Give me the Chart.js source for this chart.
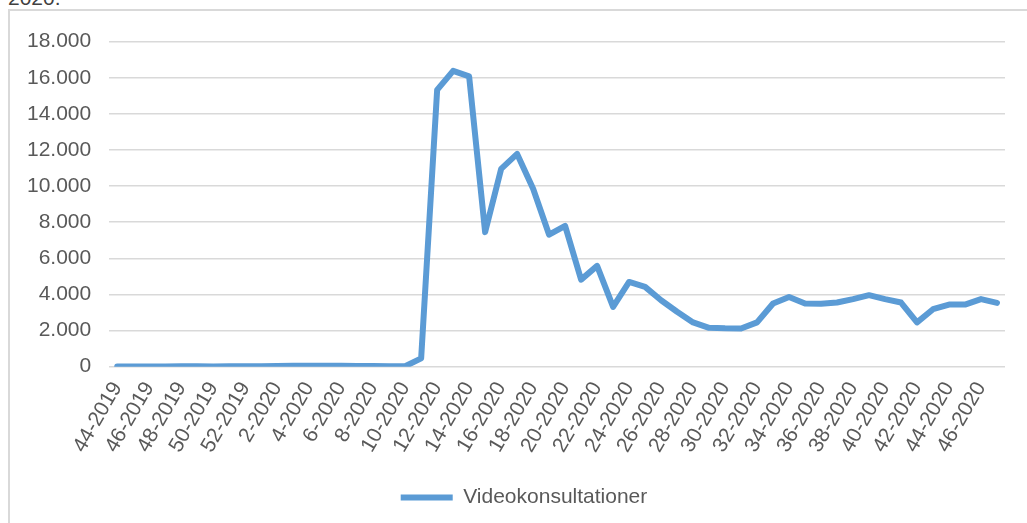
<!DOCTYPE html>
<html lang="da">
<head>
<meta charset="UTF-8">
<title>Videokonsultationer</title>
<style>
    body { margin: 0; background: #fff; overflow: hidden; font-family: "Liberation Sans", Arial, sans-serif; }
    .intro { position: absolute; left: 8px; top: -14px; font-size: 21px; color: #404040; }
    .ramme { position: absolute; left: 8px; top: 9px; width: 1060px; height: 540px; border: 2px solid #d9d9d9; box-sizing: border-box; }
    .ramme canvas { position: absolute; left: -1px; top: 0; }
</style>
</head>
<body>
<div class="intro">2020.</div>
<div class="ramme">
    <canvas id="videoChart" width="1036" height="512"></canvas>
</div>
<script src="https://cdn.jsdelivr.net/npm/chart.js"></script>
<script>
    // uger (kategorier)
    const uger = ['44-2019', '45-2019', '46-2019', '47-2019', '48-2019', '49-2019', '50-2019', '51-2019', '52-2019',
        '1-2020', '2-2020', '3-2020', '4-2020', '5-2020', '6-2020', '7-2020', '8-2020', '9-2020', '10-2020',
        '11-2020', '12-2020', '13-2020', '14-2020', '15-2020', '16-2020', '17-2020', '18-2020', '19-2020', '20-2020',
        '21-2020', '22-2020', '23-2020', '24-2020', '25-2020', '26-2020', '27-2020', '28-2020', '29-2020', '30-2020',
        '31-2020', '32-2020', '33-2020', '34-2020', '35-2020', '36-2020', '37-2020', '38-2020', '39-2020', '40-2020',
        '41-2020', '42-2020', '43-2020', '44-2020', '45-2020', '46-2020', '47-2020'];

    // antal videokonsultationer pr. uge
    const videokonsultationer = [10, 12, 14, 15, 18, 16, 12, 20, 22,
        25, 40, 55, 50, 45, 55, 40, 30, 20, 25,
        460, 15330, 16380, 16070, 7450, 10950, 11780, 9850, 7310, 7790,
        4820, 5580, 3310, 4690, 4420, 3680, 3040, 2450, 2150, 2120,
        2110, 2450, 3500, 3860, 3500, 3480, 3550, 3740, 3960, 3740,
        3550, 2450, 3180, 3440, 3440, 3740, 3530];

    const yMin = 0, yMax = 18000, yStep = 2000;

    const tekstFarve = '#595959';
    const skrift = { family: '"Liberation Sans", Arial, sans-serif', size: 21 };

    // flyt forklaringen lidt til højre, som i originalen
    const flytLegend = {
        id: 'flytLegend',
        afterLayout(chart) {
            chart.legend.left += 17;
            chart.legend.right += 17;
        }
    };

    const ctx = document.getElementById('videoChart').getContext('2d');
    const videoChart = new Chart(ctx, {
        type: 'line',
        data: {
            labels: uger,
            datasets: [{
                label: 'Videokonsultationer',
                data: videokonsultationer,
                borderColor: '#5b9bd5',
                backgroundColor: '#5b9bd5',
                borderWidth: 6,
                borderJoinStyle: 'round',
                borderCapStyle: 'round',
                pointRadius: 0,
                tension: 0
            }]
        },
        options: {
            responsive: false,
            animation: false,
            layout: { padding: { top: 13, right: 40, bottom: 5, left: 0 } },
            plugins: {
                tooltip: { enabled: false },
                legend: {
                    position: 'bottom',
                    labels: {
                        color: tekstFarve,
                        font: skrift,
                        usePointStyle: true,
                        pointStyle: 'line',
                        pointStyleWidth: 52,
                        padding: 10
                    }
                }
            },
            scales: {
                x: {
                    offset: true,
                    grid: { display: false },
                    border: { display: false },
                    afterFit: s => { s.height += 17; },
                    ticks: {
                        color: tekstFarve,
                        font: skrift,
                        autoSkip: false,
                        minRotation: 60,
                        maxRotation: 60,
                        padding: 3,
                        callback: function (v, i) { return i % 2 === 0 ? this.getLabelForValue(v) : ''; }
                    }
                },
                y: {
                    min: yMin,
                    max: yMax,
                    border: { display: false },
                    grid: { color: '#d9d9d9', lineWidth: 1.5, drawTicks: false },
                    ticks: {
                        stepSize: yStep,
                        color: tekstFarve,
                        font: skrift,
                        padding: 18,
                        callback: v => v === 0 ? '0' : v.toLocaleString('da-DK')
                    }
                }
            }
        },
        plugins: [flytLegend]
    });
</script>
</body>
</html>
